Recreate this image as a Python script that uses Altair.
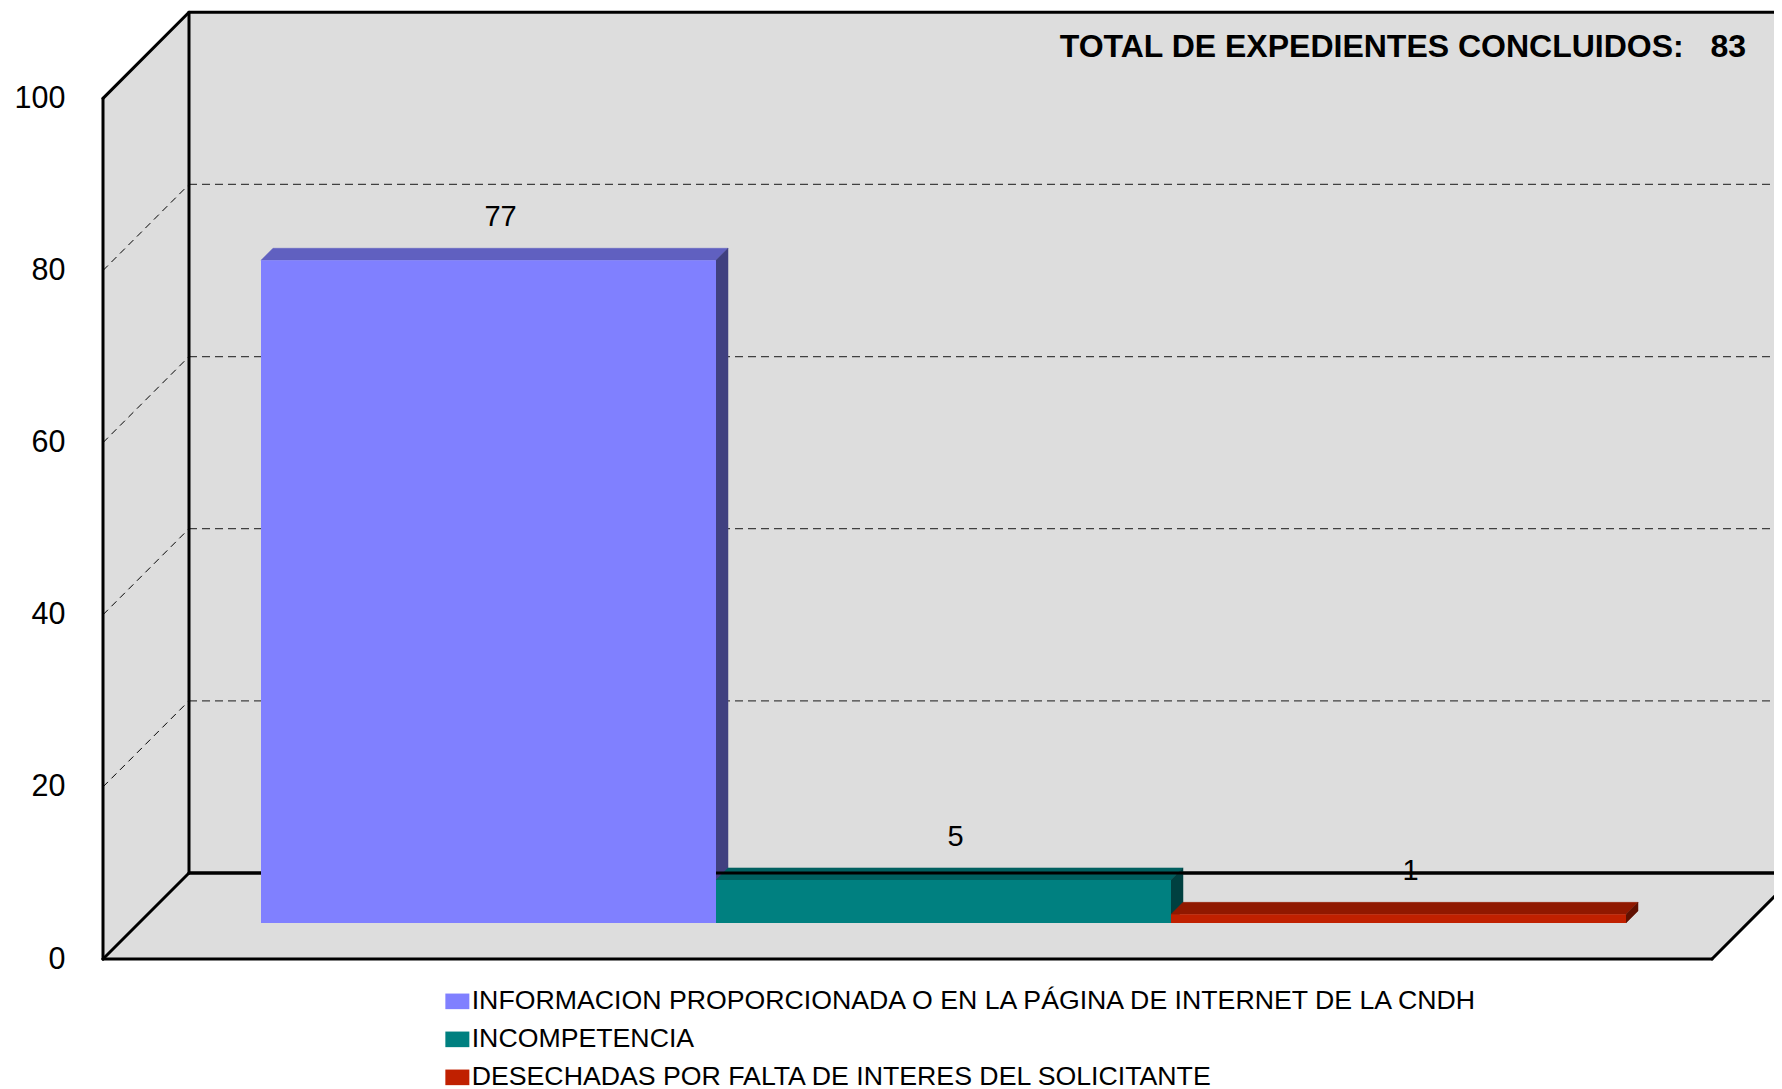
import altair as alt
import pandas as pd

# ---------------- data ----------------
categories = [
    "INFORMACION PROPORCIONADA O EN LA PÁGINA DE INTERNET DE LA CNDH",
    "INCOMPETENCIA",
    "DESECHADAS POR FALTA DE INTERES DEL SOLICITANTE",
]
values = [77, 5, 1]
front_colors = ["#8080FF", "#008080", "#C02000"]
top_colors = ["#6060C0", "#006060", "#901800"]
side_colors = ["#404080", "#004040", "#601000"]
y_ticks = [0, 20, 40, 60, 80, 100]
grid_values = [20, 40, 60, 80]
title_label = "TOTAL DE EXPEDIENTES CONCLUIDOS:"

# ---------------- layout constants ----------------
FONT = "Liberation Sans"
W, H = 1671, 951
Y_MAX = 110.5
FLOOR_W = 1609          # width of the floor front edge (x units)
DX, DY = 86, 10         # depth offset of the back wall (x units / value units)
WALL_TOP = 100
GAP = 122
BAR_W = (FLOOR_W - 2 * GAP) / len(values)
F0, F1 = 36 / 86, 48 / 86   # front / back depth of the bars
GREY = "#DDDDDD"

xs = alt.Scale(domain=[0, W], nice=False, zero=False)
ys = alt.Scale(domain=[0, Y_MAX], nice=False, zero=False)
yaxis = alt.Axis(values=y_ticks, labelFont=FONT, labelFontSize=30.5, labelColor="black",
                 ticks=False, tickSize=0, domain=False, grid=False, labelPadding=38,
                 title=None)


def X(field):
    return alt.X(field, type="quantitative", scale=xs, axis=None)


def Y(field):
    return alt.Y(field, type="quantitative", scale=ys, axis=yaxis)


# ---------------- frame (walls + floor) ----------------
frame_df = pd.DataFrame({
    "x": [0, DX, FLOOR_W, FLOOR_W + DX],
    "y": [0, 0, 0, DY],
    "y2": [WALL_TOP, WALL_TOP + DY, WALL_TOP + DY, WALL_TOP + DY],
})
frame = alt.Chart(frame_df).mark_area(color=GREY, orient="vertical").encode(
    x=X("x"), y=Y("y"), y2="y2")

back_grid_df = pd.DataFrame({"x": DX, "x2": FLOOR_W + DX, "y": [v + DY for v in grid_values]})
back_grid = alt.Chart(back_grid_df).mark_rule(
    color="#404040", strokeDash=[8, 5], strokeWidth=1.3).encode(x=X("x"), x2="x2", y=Y("y"))

side_grid_df = pd.DataFrame({"x": 0, "x2": DX, "y": grid_values,
                             "y2": [v + DY for v in grid_values]})
side_grid = alt.Chart(side_grid_df).mark_rule(
    color="black", strokeDash=[7, 5], strokeWidth=1).encode(x=X("x"), x2="x2", y=Y("y"), y2="y2")

segments = [
    (0, 0, 0, WALL_TOP),
    (0, WALL_TOP, DX, WALL_TOP + DY),
    (DX, DY, DX, WALL_TOP + DY),
    (DX, WALL_TOP + DY, FLOOR_W + DX, WALL_TOP + DY),
    (DX, DY, FLOOR_W + DX, DY),
    (0, 0, DX, DY),
    (0, 0, FLOOR_W, 0),
    (FLOOR_W, 0, FLOOR_W + DX, DY),
    (FLOOR_W + DX, DY, FLOOR_W + DX, WALL_TOP + DY),
]
lines_df = pd.DataFrame(segments, columns=["x", "y", "x2", "y2"])
lines = alt.Chart(lines_df).mark_rule(color="black", strokeWidth=3, strokeCap="round").encode(
    x=X("x"), x2="x2", y=Y("y"), y2="y2")

back_line = alt.Chart(lines_df.iloc[[4]]).mark_rule(color="black", strokeWidth=3).encode(
    x=X("x"), x2="x2", y=Y("y"), y2="y2")

# ---------------- bars ----------------
layers_3d = []
fronts, labels = [], []
for i, (cat, v) in enumerate(zip(categories, values)):
    x0 = GAP + i * BAR_W
    x1 = x0 + BAR_W
    yf, yb = DY * F0 + v, DY * F1 + v
    top_df = pd.DataFrame({
        "x": [x0 + DX * F0, x0 + DX * F1, x1 + DX * F0, x1 + DX * F1],
        "y": [yf, yf, yf, yb],
        "y2": [yf, yb, yb, yb],
    })
    side_df = pd.DataFrame({
        "x": [x1 + DX * F0, x1 + DX * F1],
        "y": [DY * F0, DY * F1],
        "y2": [DY * F0 + v, DY * F1 + v],
    })
    layers_3d.append(alt.Chart(top_df).mark_area(color=top_colors[i], orient="vertical",
                                                 stroke=top_colors[i], strokeWidth=0.5)
                     .encode(x=X("x"), y=Y("y"), y2="y2"))
    layers_3d.append(alt.Chart(side_df).mark_area(color=side_colors[i], orient="vertical",
                                                  stroke=side_colors[i], strokeWidth=0.5)
                     .encode(x=X("x"), y=Y("y"), y2="y2"))
    fronts.append({"cat": cat, "x": x0 + DX * F0, "x2": x1 + DX * F0,
                   "y": DY * F0, "y2": DY * F0 + v})
    labels.append({"label": str(v), "x": (x0 + x1) / 2 + DX * F1, "y": yb})

front_df = pd.DataFrame(fronts)
legend = alt.Legend(orient="none", legendX=341, legendY=980, title=None,
                    labelFont=FONT, labelFontSize=26.7, labelColor="black", labelLimit=0,
                    symbolType="M-1,-0.65H1V0.65H-1Z", symbolSize=576, symbolStrokeWidth=0,
                    symbolOpacity=1, labelOffset=1, rowPadding=10, padding=0, symbolOffset=0)
front = alt.Chart(front_df).mark_rect().encode(
    x=X("x"), x2="x2", y=Y("y"), y2="y2",
    color=alt.Color("cat:N", scale=alt.Scale(domain=categories, range=front_colors),
                    sort=categories, legend=legend))

label_df = pd.DataFrame(labels)
label_text = alt.Chart(label_df).mark_text(
    font=FONT, fontSize=29, color="black", baseline="alphabetic", align="center", dy=-22
).encode(x=X("x"), y=Y("y"), text="label:N")

title_df = pd.DataFrame({"t": [f"{title_label}\u00a0\u00a0\u00a0{sum(values)}"]})
title = alt.Chart(title_df).mark_text(
    font=FONT, fontSize=32, fontWeight="bold", color="black",
    align="right", baseline="alphabetic"
).encode(x=alt.datum(1643, scale=xs, axis=None), y=alt.datum(104.85, scale=ys, axis=yaxis),
         text="t:N")

chart = alt.layer(
    frame, back_grid, side_grid, lines, *layers_3d, back_line, front, label_text, title
).properties(
    width=W, height=H,
    padding={"left": 95, "top": 0, "right": 0, "bottom": 136},
    autosize=alt.AutoSizeParams(type="none"),
).configure_view(strokeWidth=0)

chart.save("out.html", embed_options={"renderer": "svg", "actions": False})
